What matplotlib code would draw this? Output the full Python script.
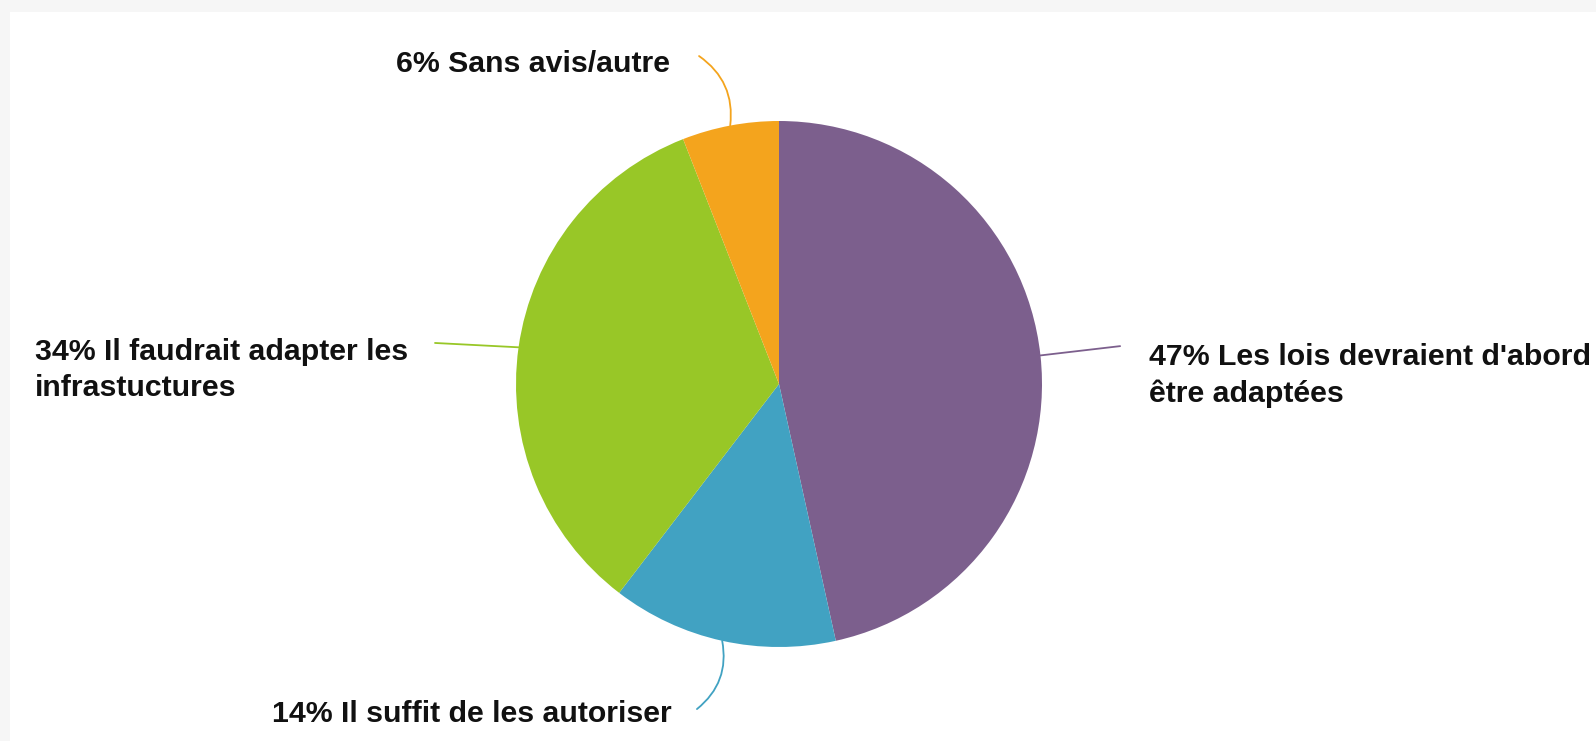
import matplotlib.pyplot as plt
from matplotlib.patches import Rectangle
import numpy as np

plt.rcParams['font.family'] = ['Liberation Sans', 'DejaVu Sans']

# data (clockwise from 12 o'clock)
labels = ["Les lois devraient d'abord\nêtre adaptées",
          "Il suffit de les autoriser",
          "Il faudrait adapter les\ninfrastuctures",
          "Sans avis/autre"]
percents = [47, 14, 34, 6]
colors = ["#7c5f8d", "#41a2c2", "#98c727", "#f4a41d"]

# label placement in data units (pie radius = 1), baseline of the last line
text_pos = [(1.407, -0.068, 'left'), (-1.928, -1.285, 'left'),
            (-2.829, -0.046, 'left'), (-0.414, 1.186, 'right')]
line_ends = [(1.297, 0.144), (-0.312, -1.236), (-1.308, 0.156), (-0.304, 1.247)]
line_rad = [0.0, 0.3, 0.0, -0.3]

fig = plt.figure(figsize=(15.96, 7.41), dpi=100, facecolor="#f6f6f6")
fig.patches.append(Rectangle((10 / 1596, 0), 1, (741 - 12) / 741,
                             transform=fig.transFigure, facecolor="white",
                             edgecolor="none", zorder=-10))
ax = fig.add_axes([0, 0, 1, 1])
ax.set_facecolor("none")
ax.set_zorder(5)

wedges, _ = ax.pie(percents, colors=colors, startangle=90, counterclock=False,
                   radius=1, wedgeprops=dict(linewidth=0))

for w, lab, p, (tx, ty, ha), end, rad in zip(wedges, labels, percents,
                                              text_pos, line_ends, line_rad):
    mid = np.deg2rad((w.theta1 + w.theta2) / 2)
    edge = (np.cos(mid), np.sin(mid))
    ax.annotate("", xy=edge, xytext=end,
                arrowprops=dict(arrowstyle="-", color=w.get_facecolor(), lw=1.3,
                                shrinkA=0, shrinkB=0,
                                connectionstyle=f"arc3,rad={rad}"))
    ax.text(tx, ty, f"{p}% {lab}", ha=ha, va="baseline", fontsize=21.75,
            fontweight="bold", color="#111111", linespacing=1.38)

ax.set_xlim(-779 / 263, (1596 - 779) / 263)
ax.set_ylim(-(741 - 384) / 263, 384 / 263)
ax.axis("off")

fig.savefig("out.png", dpi=100, facecolor=fig.get_facecolor())
